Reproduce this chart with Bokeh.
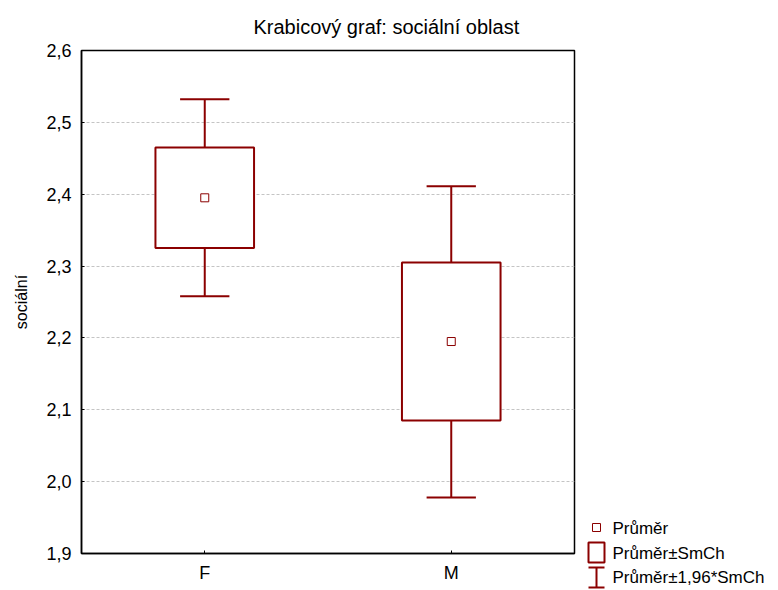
from bokeh.plotting import figure
from bokeh.models import (Range1d, FactorRange, FixedTicker, CustomJSTickFormatter,
                          ColumnDataSource)
from bokeh.transform import dodge
from bokeh.layouts import row, column
from bokeh.core.properties import value
from bokeh.embed import file_html
from bokeh.resources import INLINE

# ---- data ----
categories = ["F", "M"]
means = [2.395, 2.195]
box_low = [2.325, 2.085]      # mean - SE
box_high = [2.465, 2.305]     # mean + SE
whisker_low = [2.258, 1.978]  # mean - 1.96*SE
whisker_high = [2.532, 2.411] # mean + 1.96*SE
y_ticks = [1.9, 2.0, 2.1, 2.2, 2.3, 2.4, 2.5, 2.6]
legend_labels = ["Průměr", "Průměr±SmCh", "Průměr±1,96*SmCh"]
title_text = "Krabicový  graf: sociální oblast"
y_label = "sociální"

RED = "#8b0000"
FONT = "Liberation Sans"

src = ColumnDataSource(dict(cat=categories, mean=means, blo=box_low, bhi=box_high,
                            wlo=whisker_low, whi=whisker_high))

p = figure(width=580, height=590, x_range=FactorRange(*categories),
           y_range=Range1d(1.9, 2.6), output_backend="svg", toolbar_location=None,
           min_border_left=81, min_border_right=6, min_border_top=50, min_border_bottom=37)

p.title.text = title_text
p.title.align = "left"
p.title.offset = 172
p.title.standoff = 25
p.title.text_font = FONT
p.title.text_font_size = "20px"
p.title.text_font_style = "normal"
p.title.text_color = "black"

p.outline_line_color = "black"
p.outline_line_width = 1.5
p.outline_line_alpha = 1

# whisker stems
p.segment(x0="cat", y0="wlo", x1="cat", y1="blo", source=src, line_color=RED, line_width=2)
p.segment(x0="cat", y0="bhi", x1="cat", y1="whi", source=src, line_color=RED, line_width=2)
# caps
p.segment(x0=dodge("cat", -0.1, range=p.x_range), y0="whi",
          x1=dodge("cat", 0.1, range=p.x_range), y1="whi", source=src, line_color=RED, line_width=2)
p.segment(x0=dodge("cat", -0.1, range=p.x_range), y0="wlo",
          x1=dodge("cat", 0.1, range=p.x_range), y1="wlo", source=src, line_color=RED, line_width=2)
# boxes
p.vbar(x="cat", bottom="blo", top="bhi", width=0.4, source=src,
       fill_color="white", line_color=RED, line_width=2)
# means
p.scatter(x="cat", y="mean", source=src, marker="square", size=8,
          fill_color="white", line_color=RED, line_width=1)

p.xgrid.visible = False
p.ygrid.grid_line_color = "#c4c4c4"
p.ygrid.grid_line_dash = "3 2"
p.ygrid.grid_line_width = 1

p.yaxis.ticker = FixedTicker(ticks=y_ticks)
p.yaxis.formatter = CustomJSTickFormatter(code="return tick.toFixed(1).replace('.', ',');")
p.yaxis.axis_label = y_label
p.yaxis.axis_label_text_font = FONT
p.yaxis.axis_label_text_font_size = "16px"
p.yaxis.axis_label_text_font_style = "normal"
p.yaxis.axis_label_text_color = "black"
p.yaxis.axis_label_standoff = 13
p.yaxis.major_label_standoff = 10
p.yaxis.minor_tick_line_color = None

for ax in (p.xaxis, p.yaxis):
    ax.major_tick_in = 3
    ax.major_tick_out = 0
    ax.major_tick_line_color = "black"
    ax.axis_line_color = "black"
    ax.axis_line_width = 1.5
    ax.major_label_text_font = FONT
    ax.major_label_text_font_size = "18px"
    ax.major_label_text_color = "black"
p.xaxis.major_label_standoff = 9

# ---- legend panel (separate small figure to the right of the plot) ----
leg = figure(width=198, height=590, x_range=Range1d(0, 198), y_range=Range1d(590, 0),
             output_backend="svg", toolbar_location=None,
             x_axis_location=None, y_axis_location=None, min_border=0)
leg.grid.visible = False
leg.outline_line_color = None

key_x = 16
item_y = [527, 552, 577]
leg.scatter(x=[key_x], y=[item_y[0]], marker="square", size=8,
            fill_color="white", line_color=RED, line_width=1)
leg.rect(x=[key_x], y=[item_y[1]], width=16, height=20,
         fill_color="white", line_color=RED, line_width=2)
leg.segment(x0=[key_x, key_x - 8, key_x - 8], y0=[item_y[2] - 10, item_y[2] - 10, item_y[2] + 10],
            x1=[key_x, key_x + 8, key_x + 8], y1=[item_y[2] + 10, item_y[2] - 10, item_y[2] + 10],
            line_color=RED, line_width=2)
leg.text(x=[32, 32, 32], y=[item_y[0] + 1, item_y[1] + 1, item_y[2]], text=legend_labels,
         text_font=value(FONT), text_font_size="17px", text_baseline="middle",
         text_align="left", text_color="black")

layout = row(p, column(leg))
open("out.html", "w").write(file_html(layout, INLINE))
